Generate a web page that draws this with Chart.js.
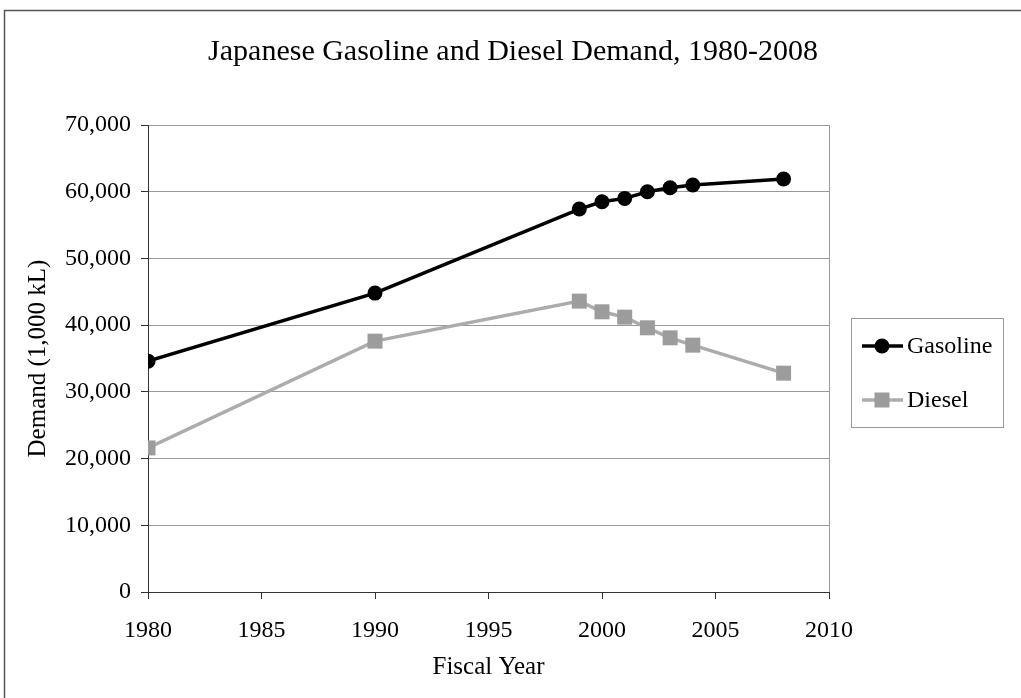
<!DOCTYPE html>
<html>
<head>
<meta charset="utf-8">
<title>Japanese Gasoline and Diesel Demand, 1980-2008</title>
<script src="https://cdn.jsdelivr.net/npm/chart.js@4/dist/chart.umd.min.js"></script>
<style>
  html, body { margin: 0; padding: 0; background: #fff; }
  canvas { display: block; }
</style>
</head>
<body>
<canvas id="demand" width="1021" height="698"></canvas>
<script>
// Fiscal years and demand in thousands of kilolitres
const fiscalYears = [1980, 1990, 1999, 2000, 2001, 2002, 2003, 2004, 2008];
const gasolineDemand = [34600, 44800, 57400, 58500, 59000, 60000, 60600, 61000, 61900];
const dieselDemand = [21600, 37600, 43600, 42000, 41200, 39600, 38100, 37000, 32800];
const seriesNames = ['Gasoline', 'Diesel'];
const chartTitle = 'Japanese Gasoline and Diesel Demand, 1980-2008';

const SERIF = '"Liberation Serif", "Times New Roman", serif';

const toPoints = values => fiscalYears.map((yr, i) => ({ x: yr, y: values[i] }));

// White page with the thin frame along the top and left edges, plus the title
const framePlugin = {
  id: 'frame',
  beforeDraw(chart) {
    const ctx = chart.ctx;
    ctx.save();
    ctx.fillStyle = '#fff';
    ctx.fillRect(0, 0, chart.width, chart.height);
    ctx.strokeStyle = '#555';
    ctx.lineWidth = 1.5;
    ctx.beginPath();
    ctx.moveTo(4.5, chart.height);
    ctx.lineTo(4.5, 10.5);
    ctx.lineTo(chart.width, 10.5);
    ctx.stroke();
    ctx.fillStyle = '#000';
    ctx.font = '30px ' + SERIF;
    ctx.textAlign = 'center';
    ctx.textBaseline = 'alphabetic';
    ctx.fillText(chartTitle, 513, 60);
    ctx.restore();
  }
};

// Boxed legend to the right of the plot
const boxedLegend = {
  id: 'boxedLegend',
  afterDraw(chart) {
    const ctx = chart.ctx;
    const left = 851, top = 318, right = 1003, bottom = 427;
    ctx.save();
    ctx.strokeStyle = '#999';
    ctx.lineWidth = 1;
    ctx.strokeRect(left + 0.5, top + 0.5, right - left, bottom - top);
    const rows = [346, 400];
    chart.data.datasets.forEach((ds, i) => {
      const y = rows[i];
      ctx.strokeStyle = ds.borderColor;
      ctx.lineWidth = ds.borderWidth;
      ctx.beginPath();
      ctx.moveTo(862, y);
      ctx.lineTo(903, y);
      ctx.stroke();
      ctx.fillStyle = ds.pointBackgroundColor;
      if (ds.pointStyle === 'circle') {
        ctx.beginPath();
        ctx.arc(882, y, 7.5, 0, Math.PI * 2);
        ctx.fill();
      } else {
        ctx.fillRect(882 - 7.5, y - 7.5, 15, 15);
      }
      ctx.fillStyle = '#000';
      ctx.font = '24px ' + SERIF;
      ctx.textBaseline = 'middle';
      ctx.textAlign = 'left';
      ctx.fillText(ds.label, 907, y + 1);
    });
    ctx.restore();
  }
};

new Chart(document.getElementById('demand'), {
  type: 'line',
  data: {
    datasets: [
      {
        label: seriesNames[0],
        data: toPoints(gasolineDemand),
        borderColor: '#000',
        backgroundColor: '#000',
        pointBackgroundColor: '#000',
        pointBorderColor: '#000',
        borderWidth: 3.5,
        pointStyle: 'circle',
        pointRadius: 7.5,
        pointBorderWidth: 0,
        tension: 0
      },
      {
        label: seriesNames[1],
        data: toPoints(dieselDemand),
        borderColor: '#acacac',
        backgroundColor: '#9c9c9c',
        pointBackgroundColor: '#9c9c9c',
        pointBorderColor: '#9c9c9c',
        borderWidth: 3.5,
        pointStyle: 'rect',
        pointRadius: 10.6,
        pointBorderWidth: 0,
        tension: 0
      }
    ]
  },
  options: {
    responsive: false,
    animation: false,
    devicePixelRatio: 1,
    layout: { padding: { left: 0, right: 192, top: 125, bottom: 0 } },
    plugins: {
      legend: { display: false },
      tooltip: { enabled: false },
      title: { display: false }
    },
    scales: {
      x: {
        type: 'linear',
        min: 1980,
        max: 2010,
        afterFit(scale) { scale.height = 106; },
        ticks: {
          stepSize: 5,
          color: '#000',
          font: { family: SERIF, size: 24 },
          padding: 17,
          callback: v => String(v)
        },
        grid: {
          color: ctx => (ctx.tick && ctx.tick.value === 2010 ? '#999' : 'rgba(0,0,0,0)'),
          tickColor: '#333',
          tickLength: 7,
          lineWidth: 1
        },
        border: { display: true, color: '#333', width: 1 },
        title: {
          display: true,
          text: 'Fiscal Year',
          color: '#000',
          font: { family: SERIF, size: 25 },
          padding: { top: 0, bottom: 16 }
        }
      },
      y: {
        min: 0,
        max: 70000,
        afterFit(scale) { scale.width = 148; },
        ticks: {
          stepSize: 10000,
          color: '#000',
          font: { family: SERIF, size: 24 },
          padding: 10,
          callback: v => v.toLocaleString('en-US')
        },
        grid: {
          color: '#999',
          tickColor: '#333',
          tickLength: 7,
          lineWidth: 1
        },
        border: { display: true, color: '#333', width: 1 },
        title: {
          display: true,
          text: 'Demand (1,000 kL)',
          color: '#000',
          font: { family: SERIF, size: 25 },
          padding: { top: 23, bottom: 0 }
        }
      }
    }
  },
  plugins: [framePlugin, boxedLegend]
});
</script>
</body>
</html>
